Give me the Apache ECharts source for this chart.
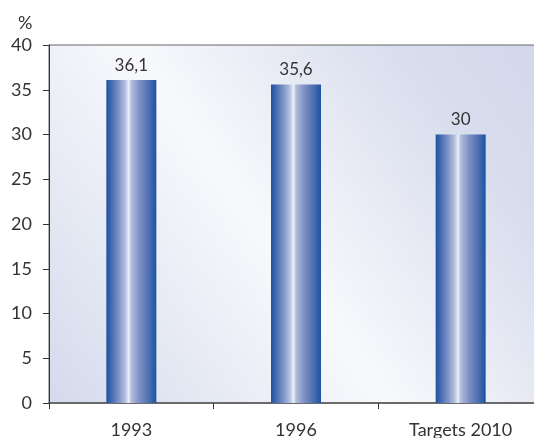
<!DOCTYPE html>
<html><head><meta charset="utf-8">
<script src="https://cdn.jsdelivr.net/npm/echarts@6/dist/echarts.min.js"></script>
<style>html,body{margin:0;padding:0;background:#fff}#c{width:534px;height:438px}</style>
</head><body><div id="c"></div>
<script>
const categories = ['1993', '1996', 'Targets 2010'];
const values = [36.1, 35.6, 30];
const valueLabels = ['36,1', '35,6', '30'];
const yTicks = [0, 5, 10, 15, 20, 25, 30, 35, 40];

const chart = echarts.init(document.getElementById('c'));
const font = 'Lato, "Open Sans", sans-serif';
const barGrad = new echarts.graphic.LinearGradient(0, 0, 1, 0, [
  {offset: 0, color: '#1c52a0'},
  {offset: 0.12, color: '#4d6fb2'},
  {offset: 0.26, color: '#8297c9'},
  {offset: 0.38, color: '#b7c1df'},
  {offset: 0.45, color: '#eceff8'},
  {offset: 0.50, color: '#b3bedd'},
  {offset: 0.66, color: '#7f91c5'},
  {offset: 0.86, color: '#4a6db1'},
  {offset: 1, color: '#1a54a0'}
]);
chart.setOption({
  animation: false,
  title: {text: '%', left: 13, top: 9, textStyle: {fontFamily: font, fontSize: 18, fontWeight: 'normal', color: '#333'}},
  grid: {
    left: 49, width: 494, top: 45, height: 358, show: true,
    outerBoundsMode: 'none', containLabel: false,
    borderColor: '#666', borderWidth: 1,
    backgroundColor: new echarts.graphic.LinearGradient(1, 0, 0, 1, [
      {offset: 0, color: '#d2d8ea'},
      {offset: 0.2, color: '#d9deee'},
      {offset: 0.55, color: '#f8f9fc'},
      {offset: 0.8, color: '#e4e8f3'},
      {offset: 1, color: '#d4daec'}
    ])
  },
  xAxis: {
    type: 'category', data: categories,
    axisLine: {lineStyle: {color: '#555', width: 1.5}},
    axisTick: {show: true, length: 6, lineStyle: {color: '#333'}},
    axisLabel: {fontFamily: font, fontSize: 18, color: '#333', margin: 18}
  },
  yAxis: {
    type: 'value', min: 0, max: 40, interval: 5,
    axisLine: {show: true, lineStyle: {color: '#333'}},
    axisTick: {show: true, length: 6, lineStyle: {color: '#333'}},
    axisLabel: {fontFamily: font, fontSize: 18, color: '#333', margin: 17},
    splitLine: {show: false}
  },
  series: [{
    type: 'bar', data: values, barWidth: 50,
    itemStyle: {color: barGrad},
    label: {show: true, position: 'top', distance: 6, fontFamily: font, fontSize: 17, color: '#333',
      formatter: p => valueLabels[p.dataIndex]}
  }]
});
</script></body></html>
